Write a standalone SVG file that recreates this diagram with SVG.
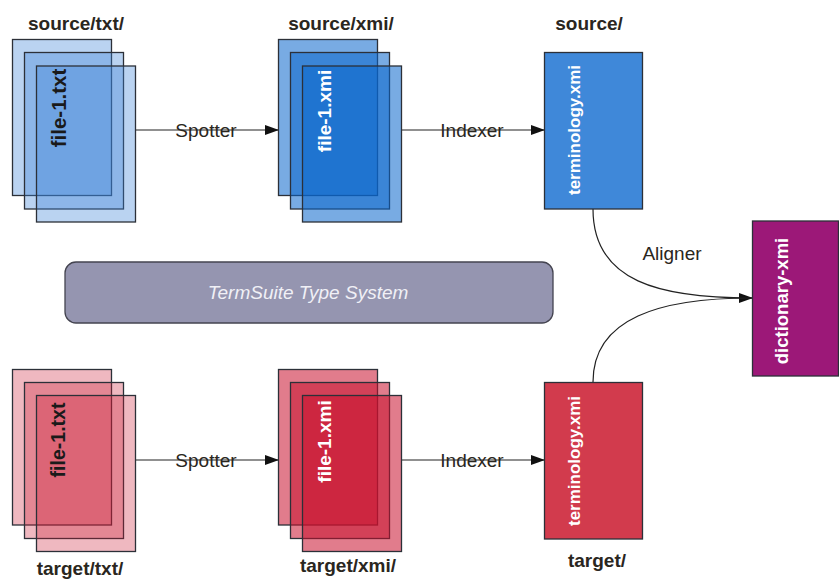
<svg xmlns="http://www.w3.org/2000/svg" width="839" height="579" viewBox="0 0 839 579">
<defs>
<style>
.lbl{font-family:"Liberation Sans",Arial,sans-serif;font-size:19px;font-weight:bold;fill:#2a2620;text-anchor:middle}
.edge{font-family:"Liberation Sans",Arial,sans-serif;font-size:19px;fill:#2a2620;text-anchor:middle}
.vt{font-family:"Liberation Sans",Arial,sans-serif;font-weight:bold;text-anchor:middle}
.doc{stroke:#2c3038;stroke-width:1.3}
.btxt{fill:#3a82d6;fill-opacity:0.35}
.bxmi{fill:#0a66cc;fill-opacity:0.55}
.rtxt{fill:#cc1a33;fill-opacity:0.31}
.rxmi{fill:#c8102e;fill-opacity:0.55}
.conn{fill:none;stroke:#222;stroke-width:1.2}
</style>
<marker id="arr" markerWidth="14" markerHeight="10" refX="13" refY="5" orient="auto" markerUnits="userSpaceOnUse">
<path d="M0,0 L14,5 L0,10 Z" fill="#111"/>
</marker>
</defs>
<rect width="839" height="579" fill="#fff"/>

<g id="connectors">
<line class="conn" x1="136" y1="130" x2="278" y2="130" marker-end="url(#arr)"/>
<line class="conn" x1="401" y1="130" x2="544" y2="130" marker-end="url(#arr)"/>
<line class="conn" x1="136" y1="460" x2="278" y2="460" marker-end="url(#arr)"/>
<line class="conn" x1="401" y1="460" x2="544" y2="460" marker-end="url(#arr)"/>
<path class="conn" d="M593,209 C593,282 660,298 752,298" marker-end="url(#arr)"/>
<path class="conn" d="M593,382 C593,318 660,298 752,298"/>
<text class="edge" x="206" y="137">Spotter</text>
<text class="edge" x="472" y="137">Indexer</text>
<text class="edge" x="206" y="467">Spotter</text>
<text class="edge" x="472" y="467">Indexer</text>
<text class="edge" x="672" y="260">Aligner</text>
</g>

<g id="source-txt">
<text class="lbl" x="76" y="30">source/txt/</text>
<rect class="doc btxt" x="12.5" y="39.5" width="99" height="156"/>
<rect class="doc btxt" x="24.5" y="52.5" width="99" height="156.5"/>
<rect class="doc btxt" x="36.5" y="66" width="99" height="156"/>
<text class="vt" font-size="20.5" fill="#1a1a1a" transform="translate(65.5,108) rotate(-90)">file-1.txt</text>
</g>

<g id="source-xmi">
<text class="lbl" x="341" y="30">source/xmi/</text>
<rect class="doc bxmi" x="278.5" y="39.5" width="99" height="156"/>
<rect class="doc bxmi" x="290.5" y="52.5" width="99" height="156.5"/>
<rect class="doc bxmi" x="302.5" y="66" width="99" height="156"/>
<text class="vt" font-size="19" fill="#fff" transform="translate(331,111) rotate(-90)">file-1.xmi</text>
</g>

<g id="source-terminology">
<text class="lbl" x="589" y="30">source/</text>
<rect x="544.5" y="52.5" width="98" height="156.5" fill="#3f88d9" stroke="#2c3038" stroke-width="1.3"/>
<text class="vt" font-size="17" fill="#fff" transform="translate(580,130) rotate(-90)">terminology.xmi</text>
</g>

<g id="type-system">
<rect x="65" y="262" width="488" height="61" rx="11" fill="#9595b0" stroke="#444450" stroke-width="1.3"/>
<text x="308" y="299" font-family="'Liberation Sans',Arial,sans-serif" font-size="19" font-style="italic" fill="#f0f0f6" text-anchor="middle">TermSuite Type System</text>
</g>

<g id="dictionary">
<rect x="752.5" y="221" width="86" height="155" fill="#9c1878" stroke="#2c3038" stroke-width="1.3"/>
<text class="vt" font-size="18.5" fill="#fff" transform="translate(787.5,301) rotate(-90)">dictionary-xmi</text>
</g>

<g id="target-txt">
<rect class="doc rtxt" x="12.5" y="369.5" width="99" height="155.5"/>
<rect class="doc rtxt" x="24.5" y="382.5" width="99" height="156"/>
<rect class="doc rtxt" x="36.5" y="395.5" width="99" height="156"/>
<text class="vt" font-size="19.5" fill="#1a1a1a" transform="translate(65,440) rotate(-90)">file-1.txt</text>
<text class="lbl" x="80" y="575">target/txt/</text>
</g>

<g id="target-xmi">
<rect class="doc rxmi" x="278.5" y="369.5" width="99" height="155.5"/>
<rect class="doc rxmi" x="290.5" y="382.5" width="99" height="156"/>
<rect class="doc rxmi" x="302.5" y="395.5" width="99" height="156"/>
<text class="vt" font-size="19" fill="#fff" transform="translate(331,441.5) rotate(-90)">file-1.xmi</text>
<text class="lbl" x="348" y="572">target/xmi/</text>
</g>

<g id="target-terminology">
<rect x="544.5" y="382.5" width="98" height="156.5" fill="#d23b4d" stroke="#2c3038" stroke-width="1.3"/>
<text class="vt" font-size="17" fill="#fff" transform="translate(580,461) rotate(-90)">terminology.xmi</text>
<text class="lbl" x="597" y="567">target/</text>
</g>
</svg>
